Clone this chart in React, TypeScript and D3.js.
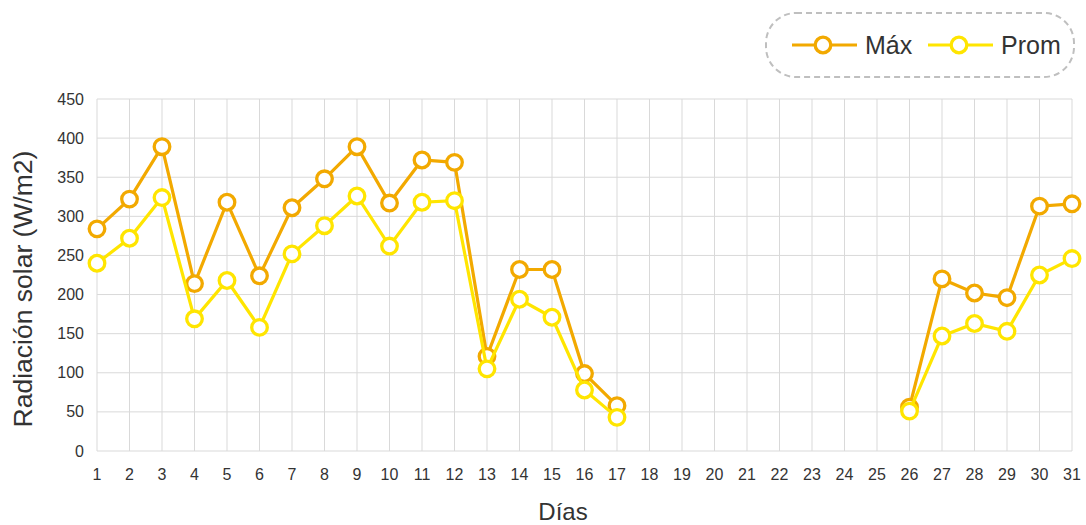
import React from 'react';
import * as d3 from 'd3';

const dias = d3.range(1, 32);
// null = sin dato
const maxVals = [
    284, 322, 389, 214, 318, 224, 311, 348, 389, 317, 372, 369, 121, 232, 232, 99, 58,
    null, null, null, null, null, null, null, null,
    56, 220, 202, 196, 313, 316,
];
const promVals = [
    240, 272, 324, 169, 218, 158, 252, 288, 326, 262, 318, 320, 105, 194, 171, 78, 43,
    null, null, null, null, null, null, null, null,
    51, 147, 163, 153, 225, 246,
];
const yTicks = [0, 50, 100, 150, 200, 250, 300, 350, 400, 450];

const series = [
    { name: 'Máx', color: '#F2A900', values: maxVals },
    { name: 'Prom', color: '#FFE500', values: promVals },
];

const W = 1086;
const H = 525;
const font = '"Liberation Sans", Arial, sans-serif';

const App = () => {
    const x = d3.scaleLinear().domain([1, 31]).range([97, 1072]);
    const y = d3.scaleLinear().domain([0, 450]).range([451, 99]);

    const line = d3
        .line<number | null>()
        .defined(d => d != null)
        .x((d, i) => x(dias[i]))
        .y(d => y(d as number));

    return (
        <svg
            width={W}
            height={H}
            style={{ position: 'absolute', left: 0, top: 0, fontFamily: font }}
        >
            <rect width={W} height={H} fill="#fff" />

            {/* grid */}
            <g stroke="#d9d9d9" strokeWidth={1}>
                {yTicks.map(t => (
                    <line key={t} x1={x(1)} x2={x(31)} y1={y(t)} y2={y(t)} />
                ))}
                {dias.map(d => (
                    <line key={d} x1={x(d)} x2={x(d)} y1={y(450)} y2={y(0)} />
                ))}
            </g>

            {/* ticks */}
            <g fill="#333" fontSize={16}>
                {yTicks.map(t => (
                    <text key={t} x={84} y={y(t)} dy="0.35em" textAnchor="end">
                        {t}
                    </text>
                ))}
                {dias.map(d => (
                    <text key={d} x={x(d)} y={474} dy="0.35em" textAnchor="middle">
                        {d}
                    </text>
                ))}
            </g>

            {/* titles */}
            <text x={563} y={520} textAnchor="middle" fontSize={24} fill="#333">
                Días
            </text>
            <text
                transform="translate(32,289) rotate(-90)"
                textAnchor="middle"
                fontSize={26.5}
                fill="#333"
            >
                Radiación solar (W/m2)
            </text>

            {/* series */}
            {series.map(s => (
                <g key={s.name}>
                    <path d={line(s.values) || ''} fill="none" stroke={s.color} strokeWidth={3.2} />
                    {s.values.map((v, i) =>
                        v == null ? null : (
                            <circle
                                key={i}
                                cx={x(dias[i])}
                                cy={y(v)}
                                r={7.8}
                                fill="#fff"
                                stroke={s.color}
                                strokeWidth={3.3}
                            />
                        )
                    )}
                </g>
            ))}

            {/* legend */}
            <rect
                x={766}
                y={13}
                width={308}
                height={64}
                rx={30}
                fill="none"
                stroke="#bfbfbf"
                strokeWidth={2}
                strokeDasharray="6,4"
            />
            {series.map((s, i) => {
                const lx = 792 + i * 136;
                return (
                    <g key={s.name}>
                        <line x1={lx} x2={lx + 65} y1={45} y2={45} stroke={s.color} strokeWidth={3.2} />
                        <circle cx={lx + 31} cy={45} r={7.8} fill="#fff" stroke={s.color} strokeWidth={3.3} />
                        <text x={lx + 73} y={45} dy="0.35em" fontSize={25} fill="#333">
                            {s.name}
                        </text>
                    </g>
                );
            })}
        </svg>
    );
};

export default App;
